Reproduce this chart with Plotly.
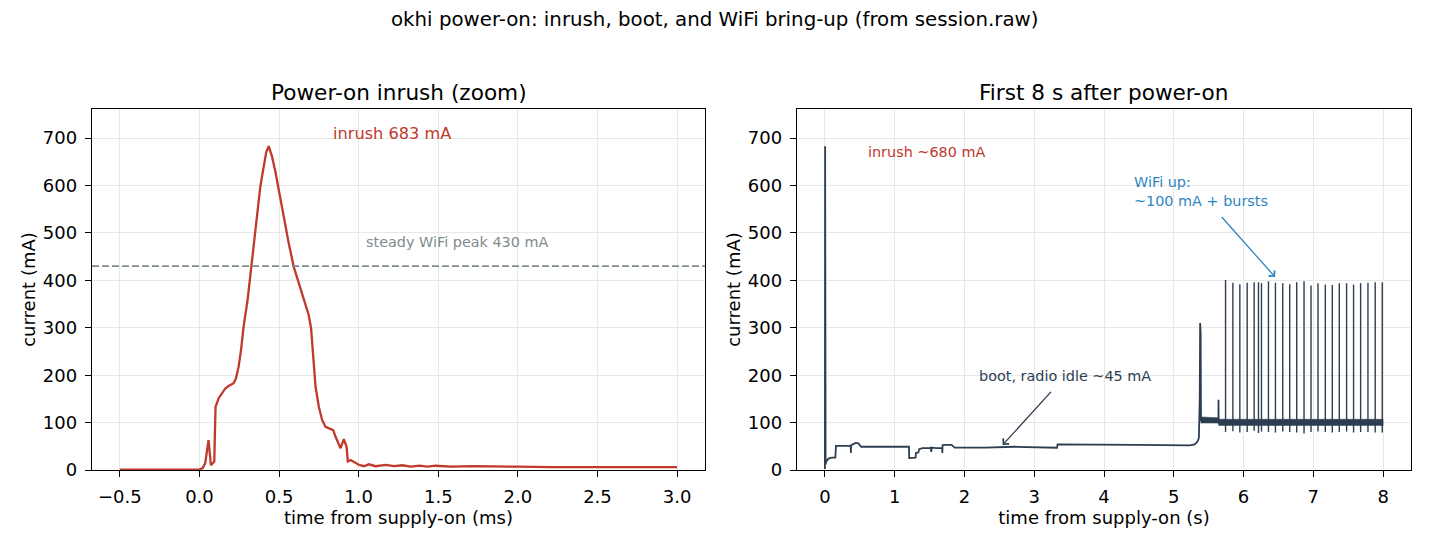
import plotly.graph_objects as go

# --- left panel: inrush zoom (ms, mA) ---
inrush_t = [-0.50, -0.20, 0.00, 0.020, 0.036, 0.057, 0.072, 0.093, 0.101, 0.120,
            0.141, 0.162, 0.183, 0.214, 0.229, 0.246, 0.261, 0.277, 0.302, 0.319,
            0.340, 0.361, 0.382, 0.403, 0.420, 0.435, 0.456, 0.477, 0.498, 0.529,
            0.561, 0.592, 0.624, 0.655, 0.686, 0.701, 0.714, 0.729, 0.750, 0.771,
            0.792, 0.823, 0.840, 0.855, 0.886, 0.907, 0.924, 0.932, 0.949, 1.001,
            1.033, 1.064, 1.106, 1.169, 1.222, 1.275, 1.327, 1.381, 1.432, 1.484,
            1.579, 1.720, 1.850, 2.000, 2.200, 2.500, 2.800, 3.000]
inrush_ma = [1, 1, 1, 4, 14, 63, 10, 18, 133, 151,
             162, 172, 177, 183, 193, 218, 253, 302, 358, 408,
             478, 541, 597, 639, 671, 683, 661, 629, 590, 534,
             478, 429, 394, 362, 327, 299, 232, 176, 133, 105,
             91, 86, 84, 70, 46, 65, 49, 18, 21, 11,
             8, 12, 8, 11, 8, 10, 7, 9, 7, 9,
             7, 8, 7, 7, 6, 6, 6, 6]
wifi_peak_ma = 430
inrush_peak_ma = 683

# --- right panel: first 8 s (s, mA) ---
boot_t = [0.000, 0.003, 0.006, 0.010, 0.020, 0.050, 0.100, 0.150, 0.158, 0.250,
          0.370, 0.372, 0.376, 0.400, 0.440, 0.480, 0.520, 0.900, 1.205, 1.208,
          1.300, 1.305, 1.340, 1.350, 1.400, 1.500, 1.520, 1.524, 1.530, 1.600,
          1.680, 1.683, 1.686, 1.700, 1.815, 1.860, 2.300, 2.720, 3.325, 3.335,
          3.800, 4.450, 5.230, 5.300, 5.340, 5.360, 5.372, 5.378, 5.382, 5.385,
          5.390, 5.640, 5.641, 5.643, 8.000]
boot_ma = [2, 683, 8, 12, 18, 24, 26, 26, 51, 51,
           51, 36, 52, 54, 57, 56, 49, 49, 49, 25,
           26, 36, 37, 44, 46, 46, 47, 38, 47, 46,
           46, 36, 52, 53, 53, 47, 47, 49, 47, 54,
           54, 53, 52, 54, 60, 68, 150, 310, 260, 290,
           106, 105, 148, 100, 100]

# WiFi-idle noise envelope
band_t = [5.385, 5.640, 5.645, 8.000]
band_hi = [112, 110, 107, 107]
band_lo = [99, 99, 94, 94]

# TX bursts (beacon-rate spikes)
burst_t = [5.742, 5.847, 5.947, 6.052, 6.152, 6.214, 6.257, 6.357, 6.457, 6.562,
           6.662, 6.762, 6.867, 6.967, 7.067, 7.172, 7.272, 7.372, 7.477, 7.577,
           7.678, 7.783, 7.887, 7.988]
burst_peak = [401, 395, 392, 395, 396, 396, 394, 398, 395, 394,
              392, 396, 398, 389, 394, 391, 390, 394, 394, 391,
              394, 395, 396, 396]
burst_low = [80, 82, 79, 80, 83, 78, 81, 80, 79, 81,
             80, 79, 77, 80, 81, 80, 79, 80, 81, 79,
             80, 80, 79, 79]

RED = "#c0392b"
NAVY = "#2c3e50"
GRAY = "#7f8c8d"
BLUE = "#2e86c1"
FONT = "DejaVu Sans"

fig = go.Figure()

fig.add_trace(go.Scatter(x=inrush_t, y=inrush_ma, mode="lines",
                         line=dict(color=RED, width=2.3),
                         xaxis="x", yaxis="y", showlegend=False))

fig.add_trace(go.Scatter(x=band_t + band_t[::-1], y=band_hi + band_lo[::-1],
                         fill="toself", fillcolor=NAVY, mode="lines",
                         line=dict(color=NAVY, width=0.5),
                         xaxis="x2", yaxis="y2", showlegend=False))
fig.add_trace(go.Scatter(x=boot_t, y=boot_ma, mode="lines",
                         line=dict(color=NAVY, width=1.8),
                         xaxis="x2", yaxis="y2", showlegend=False))

spike_x, spike_y = [], []
for t, hi, lo in zip(burst_t, burst_peak, burst_low):
    spike_x += [t, t, None]
    spike_y += [lo, hi, None]
fig.add_trace(go.Scatter(x=spike_x, y=spike_y, mode="lines",
                         line=dict(color=NAVY, width=1.4),
                         xaxis="x2", yaxis="y2", showlegend=False))

fig.add_shape(type="line", xref="x domain", yref="y", x0=0, x1=1,
              y0=wifi_peak_ma, y1=wifi_peak_ma,
              line=dict(color=GRAY, width=1.6, dash="7px,3px"))

axis_style = dict(showline=True, linecolor="black", linewidth=1.4, mirror=True,
                  ticks="outside", ticklen=6, tickwidth=1.4, tickcolor="black",
                  showgrid=True, gridcolor="#e8e8e8", gridwidth=1.2,
                  zeroline=False, tickfont=dict(size=18, color="black"),
                  ticklabelstandoff=4)

ann = []
ann.append(dict(text="okhi power-on: inrush, boot, and WiFi bring-up (from session.raw)",
                xref="paper", yref="paper", x=0.4723, y=1.249, showarrow=False,
                font=dict(size=19.8, color="black"), xanchor="center", yanchor="middle"))
ann.append(dict(text="Power-on inrush (zoom)", xref="paper", yref="paper", x=0.2324, y=1,
                yshift=2, showarrow=False, font=dict(size=21.6, color="black"),
                xanchor="center", yanchor="bottom"))
ann.append(dict(text="First 8 s after power-on", xref="paper", yref="paper", x=0.767, y=1,
                yshift=2, showarrow=False, font=dict(size=21.6, color="black"),
                xanchor="center", yanchor="bottom"))
ann.append(dict(text=f"inrush {inrush_peak_ma} mA", xref="x", yref="y", x=1.207, y=710,
                showarrow=False, font=dict(size=16.2, color=RED)))
ann.append(dict(text=f"steady WiFi peak {wifi_peak_ma} mA", xref="x", yref="y", x=1.623, y=481,
                showarrow=False, font=dict(size=14.4, color=GRAY)))
ann.append(dict(text="inrush ~680 mA", xref="x2", yref="y2", x=1.46, y=670,
                showarrow=False, font=dict(size=14.4, color=RED)))
ann.append(dict(text="boot, radio idle ~45 mA", xref="x2", yref="y2", x=3.448, y=198,
                showarrow=False, font=dict(size=14.4, color=NAVY)))
ann.append(dict(text=" ", xref="x2", yref="y2", x=2.547, y=52.7,
                ax=3.29, ay=173, axref="x2", ayref="y2", showarrow=True,
                arrowhead=4, arrowsize=1.2, arrowwidth=1.3, arrowcolor=NAVY,
                standoff=0, startstandoff=0))
ann.append(dict(text="WiFi up:<br>~100 mA + bursts", xref="x2", yref="y2", x=4.406, y=587,
                showarrow=False, align="left", xanchor="left", yanchor="middle",
                font=dict(size=14.4, color=BLUE)))
ann.append(dict(text=" ", xref="x2", yref="y2", x=6.452, y=407,
                ax=5.637, ay=542, axref="x2", ayref="y2", showarrow=True,
                arrowhead=4, arrowsize=1.2, arrowwidth=1.3, arrowcolor=BLUE,
                standoff=0, startstandoff=0))

# page body adds an 8 px offset, so the figure is 8 px smaller each way
fig.update_layout(
    width=1422, height=538, autosize=False,
    margin=dict(l=84, r=19, t=101, b=76),
    paper_bgcolor="white", plot_bgcolor="white",
    font=dict(family=FONT, color="black"),
    xaxis=dict(domain=[0, 0.4647], range=[-0.675, 3.175], dtick=0.5, tick0=0,
               tickformat=".1f", anchor="y",
               title=dict(text="time from supply-on (ms)", font=dict(size=18), standoff=4),
               **axis_style),
    yaxis=dict(range=[0, 761.5], dtick=100, anchor="x",
               title=dict(text="current (mA)", font=dict(size=18), standoff=2),
               **axis_style),
    xaxis2=dict(domain=[0.5345, 1], range=[-0.4, 8.4], dtick=1, tick0=0, anchor="y2",
                title=dict(text="time from supply-on (s)", font=dict(size=18), standoff=4),
                **axis_style),
    yaxis2=dict(range=[0, 761.5], dtick=100, anchor="x2",
                title=dict(text="current (mA)", font=dict(size=18), standoff=2),
                **axis_style),
    annotations=ann,
)

fig.write_html("out.html")
